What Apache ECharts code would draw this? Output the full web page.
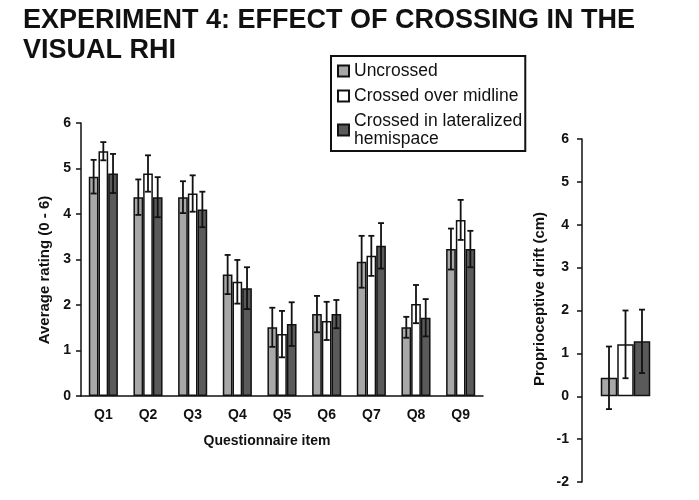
<!DOCTYPE html>
<html>
<head>
<meta charset="utf-8">
<script src="https://cdn.jsdelivr.net/npm/echarts@6/dist/echarts.min.js"></script>
<style>
html,body{margin:0;padding:0;background:#fff;}
#chart{width:699px;height:500px;}
</style>
</head>
<body>
<div id="chart"></div>
<script>
var categories = ['Q1','Q2','Q3','Q4','Q5','Q6','Q7','Q8','Q9'];
var seriesNames = ['Uncrossed','Crossed over midline','Crossed in lateralized hemispace'];
var uncrossed    = [4.82,4.37,4.37,2.67,1.51,1.80,2.95,1.51,3.23];
var uncrossedErr = [0.37,0.39,0.35,0.43,0.43,0.40,0.57,0.23,0.45];
var midline      = [5.38,4.89,4.45,2.51,1.36,1.65,3.08,2.02,3.87];
var midlineErr   = [0.20,0.40,0.40,0.48,0.51,0.42,0.44,0.42,0.44];
var lateral      = [4.89,4.37,4.10,2.37,1.58,1.80,3.30,1.72,3.23];
var lateralErr   = [0.43,0.44,0.39,0.46,0.48,0.31,0.50,0.41,0.40];
var drift        = [0.43,1.21,1.28];
var driftErr     = [0.73,0.79,0.74];
var ratingTicks  = {min:0,max:6,interval:1};
var driftTicks   = {min:-2,max:6,interval:1};

var colors = ['#a8a8a8','#ffffff','#5a5a5a'];
var font = 'Arial, "Liberation Sans", sans-serif';
var barW1 = 9.7, barW2 = 16.5;

function errSeries(name, vals, errs, offsetIdx, barW, xi, yi, catIndexFixed){
  var data = vals.map(function(v,i){ return [catIndexFixed!=null?catIndexFixed:i, v, errs[i]]; });
  return {
    type:'custom', name:name, xAxisIndex:xi, yAxisIndex:yi, z:10, silent:true,
    data:data,
    renderItem:function(params, api){
      var idx = api.value(0), v = api.value(1), e = api.value(2);
      var c = api.coord([idx, v]);
      var t = api.coord([idx, v+e]);
      var b = api.coord([idx, v-e]);
      var x = c[0] + offsetIdx*barW;
      var cap = 3;
      var st = {stroke:'#111', lineWidth:1.8};
      return {type:'group', children:[
        {type:'line', shape:{x1:x,y1:t[1],x2:x,y2:b[1]}, style:st},
        {type:'line', shape:{x1:x-cap,y1:t[1],x2:x+cap,y2:t[1]}, style:st},
        {type:'line', shape:{x1:x-cap,y1:b[1],x2:x+cap,y2:b[1]}, style:st}
      ]};
    }
  };
}

var chart = echarts.init(document.getElementById('chart'));
var leftVals = [uncrossed, midline, lateral];
var leftErrs = [uncrossedErr, midlineErr, lateralErr];
var series = [];
seriesNames.forEach(function(n,k){
  series.push({type:'bar', name:n, xAxisIndex:0, yAxisIndex:0, data:leftVals[k], barWidth:barW1, barGap:'0%',
    itemStyle:{color:colors[k], borderColor:'#111', borderWidth:1.5}, emphasis:{disabled:true}});
});
seriesNames.forEach(function(n,k){
  series.push({type:'bar', name:n, xAxisIndex:1, yAxisIndex:1, data:[drift[k]], barWidth:barW2, barGap:'0%',
    itemStyle:{color:colors[k], borderColor:'#111', borderWidth:1.5}, emphasis:{disabled:true}});
});
seriesNames.forEach(function(n,k){
  series.push(errSeries('err'+k, leftVals[k], leftErrs[k], k-1, barW1, 0, 0));
  series.push(errSeries('errd'+k, [drift[k]], [driftErr[k]], k-1, barW2, 1, 1, 0));
});

var nameStyle = {fontFamily:font, fontSize:15, fontWeight:'bold', fill:'#111', align:'center', verticalAlign:'middle'};

chart.setOption({
  animation:false,
  backgroundColor:'#fff',
  title:{text:'EXPERIMENT 4: EFFECT OF CROSSING IN THE\nVISUAL RHI', left:18, top:1,
    textStyle:{fontFamily:font, fontSize:27, fontWeight:'bold', color:'#111', lineHeight:30}},
  legend:{data:seriesNames, orient:'vertical', left:331, top:56,
    borderColor:'#111', borderWidth:2, padding:[6,3,3,6], itemGap:7,
    itemWidth:11, itemHeight:11, icon:'rect',
    formatter:function(n){ return n==='Crossed in lateralized hemispace' ? 'Crossed in lateralized\nhemispace' : n; },
    textStyle:{fontFamily:font, fontSize:17.5, color:'#111', lineHeight:18},
    selectedMode:false},
  grid:[
    {left:81, top:123, width:402, height:273},
    {left:582, top:139, width:87, height:343}
  ],
  graphic:[
    {type:'text', x:45, y:270, rotation:Math.PI/2, style:Object.assign({text:'Average rating (0 - 6)'}, nameStyle)},
    {type:'text', x:540, y:299, rotation:Math.PI/2, style:Object.assign({text:'Proprioceptive drift (cm)'}, nameStyle)},
    {type:'text', x:267, y:441, style:Object.assign({text:'Questionnaire item'}, nameStyle, {fontSize:14})}
  ],
  xAxis:[
    {type:'category', gridIndex:0, data:categories,
      axisLine:{lineStyle:{color:'#111', width:1.5}}, axisTick:{show:false},
      axisLabel:{fontFamily:font, fontSize:14, fontWeight:'bold', color:'#111', margin:12}},
    {type:'category', gridIndex:1, data:[''],
      axisLine:{show:false}, axisTick:{show:false}, axisLabel:{show:false}}
  ],
  yAxis:[
    {type:'value', gridIndex:0, min:ratingTicks.min, max:ratingTicks.max, interval:ratingTicks.interval,
      axisLine:{show:true, lineStyle:{color:'#111', width:1.5}},
      axisTick:{show:true, length:5, lineStyle:{color:'#111', width:1.5}},
      splitLine:{show:false},
      axisLabel:{fontFamily:font, fontSize:14, fontWeight:'bold', color:'#111', margin:10}},
    {type:'value', gridIndex:1, min:driftTicks.min, max:driftTicks.max, interval:driftTicks.interval,
      axisLine:{show:true, lineStyle:{color:'#111', width:1.5}},
      axisTick:{show:true, length:5, lineStyle:{color:'#111', width:1.5}},
      splitLine:{show:false},
      axisLabel:{fontFamily:font, fontSize:14, fontWeight:'bold', color:'#111', margin:13}}
  ],
  series:series
});
</script>
</body>
</html>
